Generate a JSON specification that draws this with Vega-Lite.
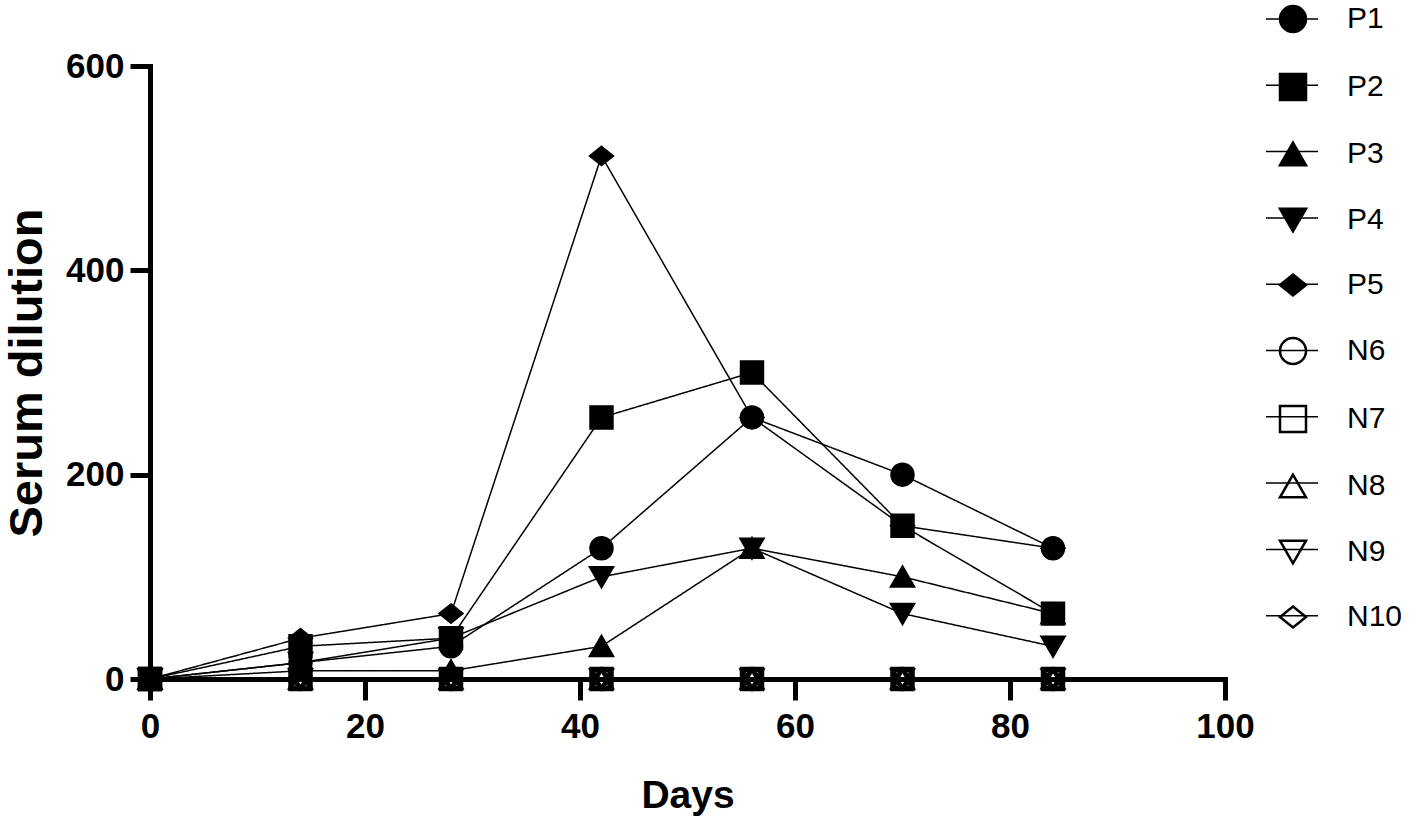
{
  "$schema": "https://vega.github.io/schema/vega-lite/v6.json",
  "autosize": "none",
  "width": 1075,
  "height": 613,
  "padding": {"left": 150, "top": 66, "right": 193, "bottom": 139},
  "background": "white",
  "config": {
    "view": {"stroke": null},
    "font": "Liberation Sans"
  },
  "data": {
    "values": [
      {"series": "P1", "day": 0, "value": 0},
      {"series": "P1", "day": 14, "value": 16},
      {"series": "P1", "day": 28, "value": 32},
      {"series": "P1", "day": 42, "value": 128},
      {"series": "P1", "day": 56, "value": 256},
      {"series": "P1", "day": 70, "value": 200},
      {"series": "P1", "day": 84, "value": 128},
      {"series": "P2", "day": 0, "value": 0},
      {"series": "P2", "day": 14, "value": 32},
      {"series": "P2", "day": 28, "value": 40},
      {"series": "P2", "day": 42, "value": 256},
      {"series": "P2", "day": 56, "value": 300},
      {"series": "P2", "day": 70, "value": 150},
      {"series": "P2", "day": 84, "value": 64},
      {"series": "P3", "day": 0, "value": 0},
      {"series": "P3", "day": 14, "value": 8},
      {"series": "P3", "day": 28, "value": 8},
      {"series": "P3", "day": 42, "value": 32},
      {"series": "P3", "day": 56, "value": 128},
      {"series": "P3", "day": 70, "value": 100},
      {"series": "P3", "day": 84, "value": 64},
      {"series": "P4", "day": 0, "value": 0},
      {"series": "P4", "day": 14, "value": 16},
      {"series": "P4", "day": 28, "value": 40},
      {"series": "P4", "day": 42, "value": 100},
      {"series": "P4", "day": 56, "value": 128},
      {"series": "P4", "day": 70, "value": 64},
      {"series": "P4", "day": 84, "value": 32},
      {"series": "P5", "day": 0, "value": 0},
      {"series": "P5", "day": 14, "value": 40},
      {"series": "P5", "day": 28, "value": 64},
      {"series": "P5", "day": 42, "value": 512},
      {"series": "P5", "day": 56, "value": 256},
      {"series": "P5", "day": 70, "value": 150},
      {"series": "P5", "day": 84, "value": 128},
      {"series": "N6", "day": 0, "value": 0},
      {"series": "N6", "day": 14, "value": 0},
      {"series": "N6", "day": 28, "value": 0},
      {"series": "N6", "day": 42, "value": 0},
      {"series": "N6", "day": 56, "value": 0},
      {"series": "N6", "day": 70, "value": 0},
      {"series": "N6", "day": 84, "value": 0},
      {"series": "N7", "day": 0, "value": 0},
      {"series": "N7", "day": 14, "value": 0},
      {"series": "N7", "day": 28, "value": 0},
      {"series": "N7", "day": 42, "value": 0},
      {"series": "N7", "day": 56, "value": 0},
      {"series": "N7", "day": 70, "value": 0},
      {"series": "N7", "day": 84, "value": 0},
      {"series": "N8", "day": 0, "value": 0},
      {"series": "N8", "day": 14, "value": 0},
      {"series": "N8", "day": 28, "value": 0},
      {"series": "N8", "day": 42, "value": 0},
      {"series": "N8", "day": 56, "value": 0},
      {"series": "N8", "day": 70, "value": 0},
      {"series": "N8", "day": 84, "value": 0},
      {"series": "N9", "day": 0, "value": 0},
      {"series": "N9", "day": 14, "value": 0},
      {"series": "N9", "day": 28, "value": 0},
      {"series": "N9", "day": 42, "value": 0},
      {"series": "N9", "day": 56, "value": 0},
      {"series": "N9", "day": 70, "value": 0},
      {"series": "N9", "day": 84, "value": 0},
      {"series": "N10", "day": 0, "value": 0},
      {"series": "N10", "day": 14, "value": 0},
      {"series": "N10", "day": 28, "value": 0},
      {"series": "N10", "day": 42, "value": 0},
      {"series": "N10", "day": 56, "value": 0},
      {"series": "N10", "day": 70, "value": 0},
      {"series": "N10", "day": 84, "value": 0}
    ]
  },
  "encoding": {
    "x": {
      "field": "day",
      "type": "quantitative",
      "scale": {"domain": [0, 100], "nice": false, "zero": false},
      "axis": {
        "title": "Days",
        "values": [0, 20, 40, 60, 80, 100],
        "grid": false,
        "domainColor": "black",
        "domainWidth": 5,
        "domainCap": "square",
        "tickColor": "black",
        "tickWidth": 5,
        "tickSize": 21,
        "labelFont": "Liberation Sans",
        "labelFontWeight": "bold",
        "labelFontSize": 35,
        "labelColor": "black",
        "labelPadding": 9,
        "labelFlush": false,
        "titleFont": "Liberation Sans",
        "titleFontWeight": "bold",
        "titleFontSize": 39,
        "titleColor": "black",
        "titlePadding": 32
      }
    },
    "y": {
      "field": "value",
      "type": "quantitative",
      "scale": {"domain": [0, 600], "nice": false},
      "axis": {
        "title": "Serum dilution",
        "values": [0, 200, 400, 600],
        "grid": false,
        "domainColor": "black",
        "domainWidth": 5,
        "domainCap": "square",
        "tickColor": "black",
        "tickWidth": 5,
        "tickSize": 20,
        "labelFont": "Liberation Sans",
        "labelFontWeight": "bold",
        "labelFontSize": 35,
        "labelColor": "black",
        "labelPadding": 6,
        "labelFlush": false,
        "titleFont": "Liberation Sans",
        "titleFontWeight": "bold",
        "titleFontSize": 47,
        "titleColor": "black",
        "titlePadding": 14
      }
    }
  },
  "layer": [
    {
      "mark": {"type": "line", "color": "black", "strokeWidth": 1.5},
      "encoding": {
        "strokeDash": {
          "field": "series",
          "type": "nominal",
          "sort": ["P1", "P2", "P3", "P4", "P5", "N6", "N7", "N8", "N9", "N10"],
          "scale": {"range": [[1, 0], [1, 0], [1, 0], [1, 0], [1, 0], [1, 0], [1, 0], [1, 0], [1, 0], [1, 0]]},
          "legend": {
            "title": null,
            "orient": "none",
            "legendX": 1115,
            "legendY": -74,
            "symbolType": "stroke",
            "symbolSize": 2704,
            "symbolStrokeWidth": 1.5,
            "symbolStrokeColor": "black",
            "labelExpr": "''",
            "labelFontSize": 30,
            "labelOffset": 0,
            "rowPadding": 24.3,
            "padding": 0
          }
        }
      }
    },
    {
      "mark": {"type": "point", "filled": false, "stroke": "black", "strokeWidth": 3.5, "size": 440, "opacity": 1},
      "encoding": {
        "shape": {
          "field": "series",
          "type": "nominal",
          "scale": {
            "domain": ["P1", "P2", "P3", "P4", "P5", "N6", "N7", "N8", "N9", "N10"],
            "range": ["circle", "square", "triangle-up", "triangle-down", "M0,-0.8L1,0L0,0.8L-1,0Z", "circle", "square", "triangle-up", "triangle-down", "M0,-0.8L1,0L0,0.8L-1,0Z"]
          },
          "legend": {
            "title": null,
            "orient": "none",
            "legendX": 1128,
            "legendY": -62,
            "symbolSize": 676,
            "symbolStrokeWidth": 2.5,
            "symbolStrokeColor": "black",
            "labelFont": "Liberation Sans",
            "labelFontSize": 30,
            "labelColor": "black",
            "labelOffset": 39,
            "rowPadding": 32,
            "padding": 0
          }
        },
        "fill": {
          "field": "series",
          "type": "nominal",
          "scale": {
            "domain": ["P1", "P2", "P3", "P4", "P5", "N6", "N7", "N8", "N9", "N10"],
            "range": ["black", "black", "black", "black", "black", "transparent", "transparent", "transparent", "transparent", "transparent"]
          },
          "legend": {
            "title": null,
            "orient": "none",
            "legendX": 1128,
            "legendY": -62,
            "symbolSize": 676,
            "symbolStrokeWidth": 2.5,
            "symbolStrokeColor": "black",
            "labelFont": "Liberation Sans",
            "labelFontSize": 30,
            "labelColor": "black",
            "labelOffset": 39,
            "rowPadding": 32,
            "padding": 0
          }
        },
        "stroke": {
          "field": "series",
          "type": "nominal",
          "scale": {
            "domain": ["P1", "P2", "P3", "P4", "P5", "N6", "N7", "N8", "N9", "N10"],
            "range": ["black", "black", "black", "black", "black", "black", "black", "black", "black", "black"]
          },
          "legend": {
            "title": null,
            "orient": "none",
            "legendX": 1128,
            "legendY": -62,
            "symbolSize": 676,
            "symbolStrokeWidth": 2.5,
            "symbolStrokeColor": "black",
            "labelFont": "Liberation Sans",
            "labelFontSize": 30,
            "labelColor": "black",
            "labelOffset": 39,
            "rowPadding": 32,
            "padding": 0
          }
        }
      }
    }
  ]
}
